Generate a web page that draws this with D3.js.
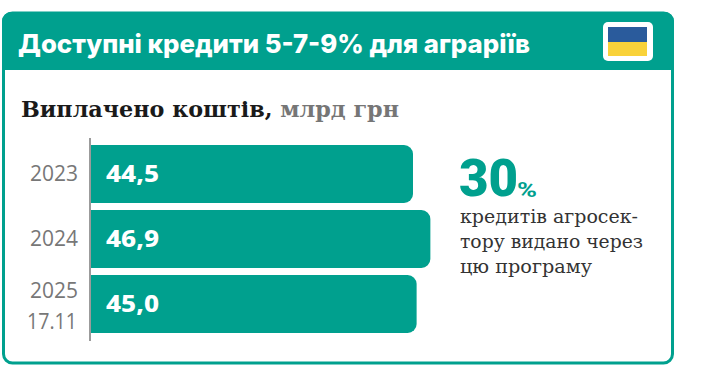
<!DOCTYPE html>
<html>
<head>
<meta charset="utf-8">
<script src="https://cdn.jsdelivr.net/npm/d3@7"></script>
<style>
  html, body { margin: 0; padding: 0; background: #fff; }
  svg { display: block; }
</style>
</head>
<body>
<div id="chart"></div>
<script>
var years = ["2023", "2024", "2025"];
var yearNotes = ["", "", "17.11"];
var payouts = [44.5, 46.9, 45.0];
var payoutLabels = ["44,5", "46,9", "45,0"];
var noteLines = ["кредитів агросек-", "тору видано через", "цю програму"];

var width = 702, height = 382;
var green = "#00a08e";
var sans = "Inter, 'Noto Sans', sans-serif";
var slab = "'DejaVu Serif', serif";
var light = "'Open Sans', 'Noto Sans', sans-serif";

var svg = d3.select("#chart").append("svg")
    .attr("width", width)
    .attr("height", height);

// card
svg.append("rect")
    .attr("x", 3.5).attr("y", 13)
    .attr("width", 669).attr("height", 350)
    .attr("rx", 9)
    .attr("fill", "#fff")
    .attr("stroke", green)
    .attr("stroke-width", 3);

// header band
svg.append("path")
    .attr("d", "M2,70V21a9,9 0 0 1 9,-9H665a9,9 0 0 1 9,9V70Z")
    .attr("fill", green);

svg.append("text")
    .attr("x", 18).attr("y", 53)
    .attr("font-family", sans)
    .attr("font-weight", 800)
    .attr("font-size", 26)
    .attr("fill", "#fff")
    .attr("textLength", 512)
    .attr("lengthAdjust", "spacingAndGlyphs")
    .text("Доступні кредити 5-7-9% для аграріїв");

// flag
svg.append("rect")
    .attr("x", 603).attr("y", 22).attr("width", 50).attr("height", 39)
    .attr("rx", 5).attr("fill", "#fff");
svg.append("rect")
    .attr("x", 608).attr("y", 27).attr("width", 39).attr("height", 15)
    .attr("fill", "#2a5b9c");
svg.append("rect")
    .attr("x", 608).attr("y", 42).attr("width", 39).attr("height", 14)
    .attr("fill", "#f9d23a");

// chart title
var title = svg.append("text")
    .attr("x", 21).attr("y", 117)
    .attr("font-family", slab)
    .attr("font-weight", 700)
    .attr("font-size", 22)
    .attr("textLength", 378)
    .attr("lengthAdjust", "spacingAndGlyphs");
title.append("tspan").attr("fill", "#1a1a1a").text("Виплачено коштів,");
title.append("tspan").attr("fill", "#767676").text(" млрд грн");

// scales
var xScale = d3.scaleLinear()
    .domain([0, 50])
    .range([91, 91 + 7.236 * 50]);

var yScale = d3.scaleBand()
    .domain(years)
    .range([141.5, 336.5])
    .paddingInner(7 / 65)
    .paddingOuter(3.5 / 65);

var r = 9;
var bh = yScale.bandwidth();

// bars, square on the axis side
svg.selectAll(".bar")
    .data(payouts)
    .enter().append("path")
    .attr("class", "bar")
    .attr("fill", green)
    .attr("d", function(d, i) {
        var x0 = xScale(0), x1 = xScale(d), y0 = yScale(years[i]);
        return "M" + x0 + "," + y0 + "H" + (x1 - r) +
            "a" + r + "," + r + " 0 0 1 " + r + "," + r +
            "V" + (y0 + bh - r) +
            "a" + r + "," + r + " 0 0 1 " + (-r) + "," + r +
            "H" + x0 + "Z";
    });

// axis line
svg.append("line")
    .attr("x1", 90).attr("x2", 90)
    .attr("y1", 138).attr("y2", 341)
    .attr("stroke", "#7a7a7a")
    .attr("stroke-width", 1.5);

// bar values
svg.selectAll(".value")
    .data(payoutLabels)
    .enter().append("text")
    .attr("class", "value")
    .attr("x", 106)
    .attr("y", function(d, i) { return yScale(years[i]) + bh / 2 + 8; })
    .attr("font-family", "'Noto Sans', sans-serif")
    .attr("font-weight", 800)
    .attr("font-size", 23)
    .attr("fill", "#fff")
    .attr("textLength", 53)
    .attr("lengthAdjust", "spacingAndGlyphs")
    .text(function(d) { return d; });

// year labels
var yearBase = [181, 246, 298];
svg.selectAll(".year")
    .data(years)
    .enter().append("text")
    .attr("class", "year")
    .attr("x", 78)
    .attr("y", function(d, i) { return yearBase[i]; })
    .attr("text-anchor", "end")
    .attr("font-family", light)
    .attr("font-weight", 400)
    .attr("font-size", 21)
    .attr("fill", "#777")
    .attr("textLength", 48)
    .attr("lengthAdjust", "spacingAndGlyphs")
    .text(function(d) { return d; });

svg.append("text")
    .attr("x", 77).attr("y", 329)
    .attr("text-anchor", "end")
    .attr("font-family", light)
    .attr("font-weight", 400)
    .attr("font-size", 21)
    .attr("fill", "#777")
    .attr("textLength", 50)
    .attr("lengthAdjust", "spacingAndGlyphs")
    .text(yearNotes[2]);

// side note
svg.append("text")
    .attr("x", 459).attr("y", 196)
    .attr("font-family", "Roboto, sans-serif")
    .attr("font-weight", 900)
    .attr("font-size", 51)
    .attr("fill", green)
    .text("30");
svg.append("text")
    .attr("x", 517).attr("y", 197)
    .attr("font-family", "Roboto, sans-serif")
    .attr("font-weight", 700)
    .attr("font-size", 20)
    .attr("fill", green)
    .attr("textLength", 20)
    .attr("lengthAdjust", "spacingAndGlyphs")
    .text("%");

var noteWidths = [178, 183, 132];
svg.selectAll(".note")
    .data(noteLines)
    .enter().append("text")
    .attr("class", "note")
    .attr("x", 460)
    .attr("y", function(d, i) { return 223 + i * 25; })
    .attr("font-family", slab)
    .attr("font-size", 18)
    .attr("fill", "#333")
    .attr("textLength", function(d, i) { return noteWidths[i]; })
    .attr("lengthAdjust", "spacingAndGlyphs")
    .text(function(d) { return d; });
</script>
</body>
</html>
